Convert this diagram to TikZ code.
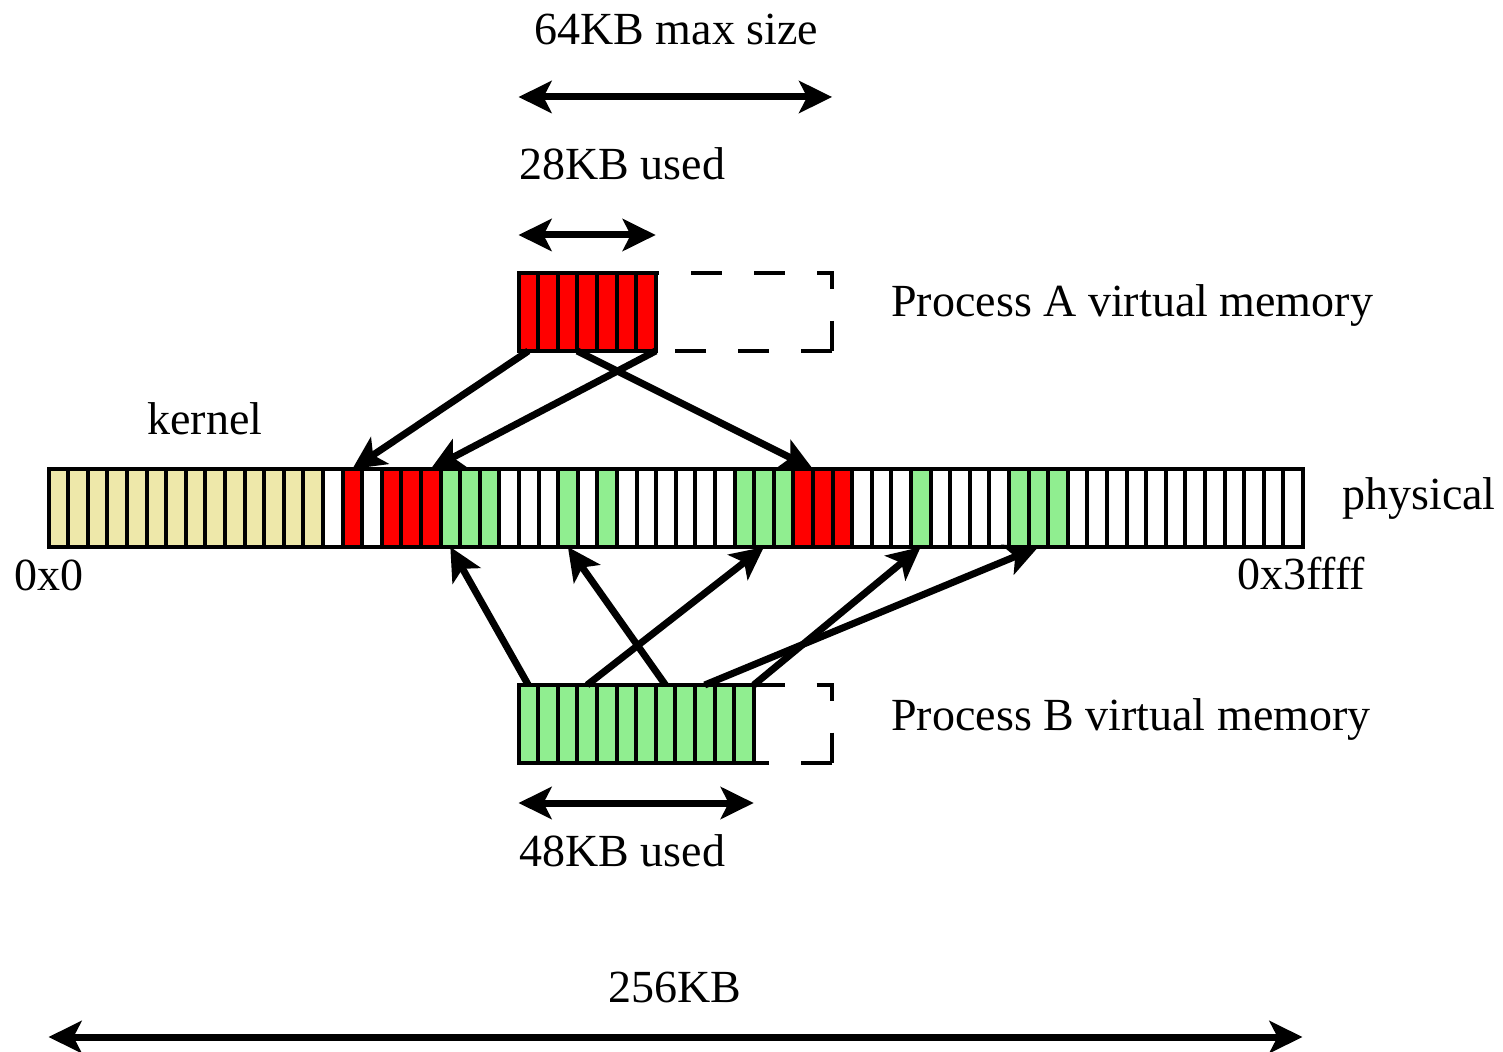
\documentclass[tikz,border=0pt]{standalone}
\usepackage{amsmath}
\usepackage{fontspec}
\setmainfont{Liberation Serif}
\usetikzlibrary{arrows.meta}

\definecolor{pgy}{RGB}{238,232,170}
\definecolor{pgw}{RGB}{255,255,255}
\definecolor{pgr}{RGB}{255,0,0}
\definecolor{pgg}{RGB}{144,238,144}

\begin{document}
\begin{tikzpicture}[x=0.5pt,y=0.5pt,yscale=-1,xscale=1,
  page/.style={draw, line width=2pt, minimum width=9.8pt, minimum height=39pt, inner sep=0pt, outer sep=0pt},
  map/.style={line width=3.5pt, -{Stealth[length=16.5pt,width=16pt,inset=4pt]}},
  span/.style={line width=3.5pt, {Stealth[length=16.5pt,width=16pt,inset=4pt]}-{Stealth[length=16.5pt,width=16pt,inset=4pt]}},
  unused/.style={line width=1.75pt, dash pattern=on 15.5pt off 16pt},
  txt/.style={anchor=base west, inner sep=0pt, font=\fontsize{23}{28}\selectfont}]
\useasboundingbox (0,0) rectangle (1503,1052);

%Shape: physical memory, 64 pages
\foreach \c [count=\i from 0] in {y,y,y,y,y,y,y,y,y,y,y,y,y,y,w,r,w,r,r,r,g,g,g,w,w,w,g,w,g,w,w,w,w,w,w,g,g,g,r,r,r,w,w,w,g,w,w,w,w,g,g,g,w,w,w,w,w,w,w,w,w,w,w,w}
  \node[page, fill=pg\c] (p\i) at ({58.3+19.6*\i},508) {};

%Shape: process A, 7 pages used
\foreach \i in {0,...,6}
  \node[page, fill=pgr] (a\i) at ({528.3+19.6*\i},312) {};
\coordinate (Atr) at (832.1,273);
\coordinate (Abr) at (832.1,351);
\draw[unused, dash phase=13.85pt] (a6.north east) -- (Atr) -- (Abr);
\draw[unused] (Abr) -- (a6.south east);

%Shape: process B, 12 pages used
\foreach \i in {0,...,11}
  \node[page, fill=pgg] (b\i) at ({528.3+19.6*\i},724) {};
\coordinate (Btr) at (832.1,685);
\coordinate (Bbr) at (832.1,763);
\draw[unused] (b11.north east) -- (Btr) -- (Bbr);
\draw[unused] (Bbr) -- (b11.south east);

%Arrows: A to physical
\draw[map] (a0.south) -- (p15.north);
\draw[map] (a6.south east) -- (p19.north);
\draw[map] (a2.south east) -- (p38.north east);
%Arrows: B to physical
\draw[map] (b0.north) -- (p20.south);
\draw[map] (b7.north) -- (p26.south);
\draw[map] (b3.north) -- (p36.south);
\draw[map] (b11.north east) -- (p44.south);
\draw[map] (b9.north) -- (p50.south);

%Size arrows
\coordinate (maxL) at (518.5,97);
\coordinate (maxR) at (832.1,97);
\draw[span] (maxL) -- (maxR);
\coordinate (usedAL) at (518.5,235);
\coordinate (usedAR) at (655.7,235);
\draw[span] (usedAL) -- (usedAR);
\coordinate (usedBL) at (518.5,803);
\coordinate (usedBR) at (753.7,803);
\draw[span] (usedBL) -- (usedBR);
\coordinate (allL) at (48.5,1037);
\coordinate (allR) at (1302.5,1037);
\draw[span] (allL) -- (allR);

% Text Node
\node[txt] (maxlbl) at (534,45) {64KB max size};
% Text Node
\node[txt] (usedAlbl) at (519,180) {28KB used};
% Text Node
\node[txt] (Albl) at (891,317) {Process A virtual memory};
% Text Node
\node[txt] (kernlbl) at (147,435) {kernel};
% Text Node
\node[txt] (physlbl) at (1342,510) {physical};
% Text Node
\node[txt] (lowlbl) at (14,590) {0x0};
% Text Node
\node[txt] (highlbl) at (1237,589) {0x3ffff};
% Text Node
\node[txt] (Blbl) at (891,730) {Process B virtual memory};
% Text Node
\node[txt] (usedBlbl) at (519,866) {48KB used};
% Text Node
\node[txt] (alllbl) at (608,1002) {256KB};

\end{tikzpicture}
\end{document}
